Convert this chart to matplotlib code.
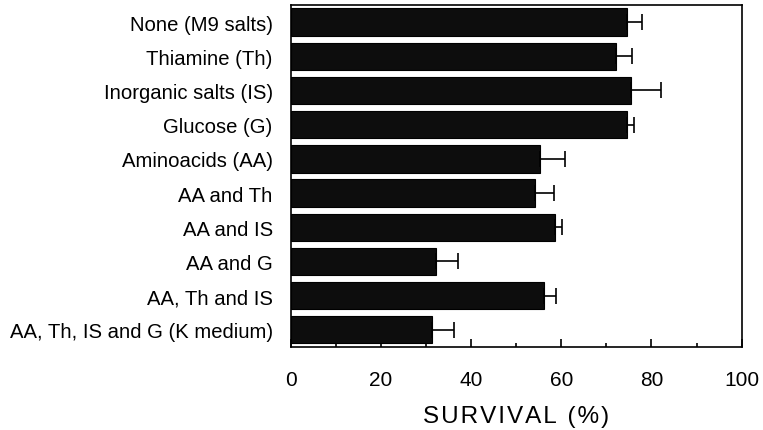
import numpy as np
import matplotlib
matplotlib.use("Agg")
from matplotlib import pyplot as plt
from matplotlib.ticker import MultipleLocator

plt.rcParams["font.family"] = ["Liberation Sans", "DejaVu Sans"]

# Medium supplements and the survival.
conditions = [
    "None (M9 salts)",
    "Thiamine (Th)",
    "Inorganic salts (IS)",
    "Glucose (G)",
    "Aminoacids (AA)",
    "AA and Th",
    "AA and IS",
    "AA and G",
    "AA, Th and IS",
    "AA, Th, IS and G (K medium)",
]
survival = [74.6, 72.2, 75.5, 74.6, 55.2, 54.2, 58.6, 32.3, 56.2, 31.4]
error = [3.3, 3.5, 6.7, 1.5, 5.6, 4.2, 1.5, 4.9, 2.7, 4.9]

fig = plt.figure(figsize=(7.63, 4.31), dpi=100)
ax = fig.add_axes([0.381, 0.193, 0.591, 0.793])

y = np.arange(len(conditions))
ax.barh(y, survival, height=0.8, color="#0d0d0d", edgecolor="black",
        linewidth=0.8, zorder=2)
ax.errorbar(survival, y, xerr=[np.zeros(len(error)), error], fmt="none",
            ecolor="black", elinewidth=1.2, capsize=6, capthick=1.2, zorder=3)

ax.set_ylim(len(conditions) - 0.5, -0.5)
ax.set_xlim(0, 100)
ax.set_yticks(y)
ax.set_yticklabels(conditions, fontsize=14.6)
ax.tick_params(axis="y", length=0, pad=13)

ax.xaxis.set_major_locator(MultipleLocator(20))
ax.xaxis.set_minor_locator(MultipleLocator(10))
ax.tick_params(axis="x", which="major", direction="in", length=6, width=1.2,
               labelsize=15, pad=17)
ax.tick_params(axis="x", which="minor", direction="in", length=3, width=1.2)

for s in ax.spines.values():
    s.set_linewidth(1.2)

# letter-spaced axis title, as in the original
ax.set_xlabel("\u200a".join("SURVIVAL (%)"), fontsize=17.5, labelpad=11)

fig.savefig("out.png", dpi=100)
